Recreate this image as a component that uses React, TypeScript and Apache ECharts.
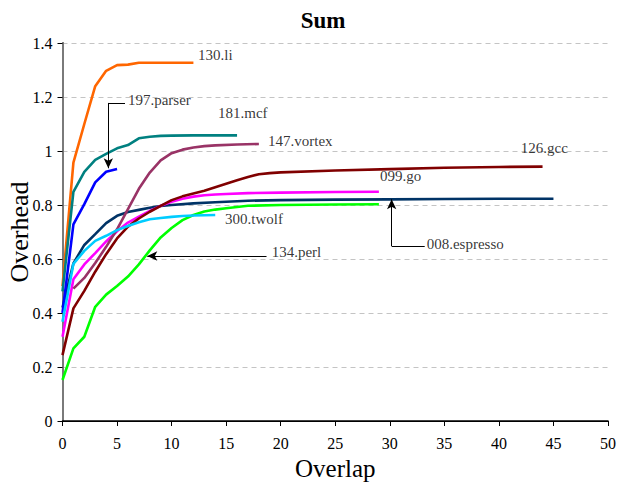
import React, { useEffect, useRef } from "react";
import * as echarts from "echarts";

// ---- data (x = overlap, y = overhead) ----
const li130 = [[0,0.5],[1,0.957],[2,1.1],[3,1.24],[4,1.297],[5,1.318],[6,1.32],[7,1.327],[8,1.327],[10,1.327],[12,1.327]];
const mcf181 = [[0,0.48],[1,0.849],[2,0.923],[3,0.967],[4,0.989],[5,1.01],[6,1.022],[7,1.047],[8,1.053],[9,1.056],[10,1.057],[12,1.058],[14,1.058],[16,1.058]];
const parser197 = [[0,0.4],[1,0.728],[2,0.803],[3,0.884],[4,0.923],[5,0.933]];
const vortex147 = [[1,0.49],[2,0.53],[3,0.585],[4,0.645],[5,0.71],[6,0.785],[7,0.86],[8,0.92],[9,0.965],[10,0.992],[11,1.005],[12,1.013],[13,1.018],[14,1.021],[16,1.024],[18,1.026]];
const gcc126 = [[0,0.244],[1,0.417],[2,0.482],[3,0.553],[4,0.618],[5,0.676],[6,0.72],[7,0.75],[8,0.775],[9,0.797],[10,0.818],[11,0.832],[12,0.843],[13,0.853],[14,0.866],[15,0.879],[16,0.892],[17,0.904],[18,0.914],[19,0.918],[20,0.921],[25,0.928],[30,0.933],[35,0.938],[40,0.941],[44,0.942]];
const go099 = [[0,0.312],[1,0.525],[2,0.58],[3,0.622],[4,0.665],[5,0.703],[6,0.735],[7,0.757],[8,0.778],[9,0.797],[10,0.812],[11,0.823],[12,0.831],[13,0.836],[14,0.839],[15,0.841],[17,0.844],[20,0.846],[25,0.848],[29,0.849]];
const espresso008 = [[0,0.42],[1,0.584],[2,0.652],[3,0.692],[4,0.733],[5,0.76],[6,0.774],[7,0.782],[8,0.79],[9,0.796],[10,0.8],[12,0.806],[14,0.81],[17,0.816],[20,0.818],[25,0.82],[30,0.821],[35,0.822],[40,0.823],[45,0.823]];
const twolf300 = [[0,0.368],[1,0.582],[2,0.63],[3,0.667],[4,0.686],[5,0.707],[6,0.722],[7,0.736],[8,0.747],[9,0.752],[10,0.756],[11,0.759],[12,0.761],[13,0.762],[14,0.763]];
const perl134 = [[0,0.152],[1,0.269],[2,0.312],[3,0.423],[4,0.468],[5,0.5],[6,0.535],[7,0.58],[8,0.632],[9,0.68],[10,0.715],[11,0.744],[12,0.763],[13,0.776],[14,0.783],[15,0.788],[17,0.797],[20,0.8],[25,0.802],[29,0.803]];

const seriesNames = ["008.espresso","099.go","126.gcc","130.li","134.perl","147.vortex","181.mcf","197.parser","300.twolf"];
const seriesData = [espresso008, go099, gcc126, li130, perl134, vortex147, mcf181, parser197, twolf300];
const seriesColors = ["#003366","#FF00FF","#800000","#FF6600","#00FF00","#993366","#008080","#0000FF","#00CCFF"];

// annotation labels
const labelNames = ["130.li","197.parser","181.mcf","147.vortex","126.gcc","099.go","008.espresso","300.twolf","134.perl"];
const labelX = [12.42, 6.0, 14.25, 18.84, 42.0, 29.1, 33.38, 14.9, 19.17];
const labelY = [1.356, 1.189, 1.141, 1.038, 1.01, 0.907, 0.656, 0.747, 0.627];

// annotation leader segments: [x1, y1, x2, y2, arrowAtEnd]
const leaderSegments: [number, number, number, number, boolean][] = [
  [5.73, 1.178, 4.2, 1.178, false],
  [4.2, 1.178, 4.2, 0.936, true],
  [18.7, 0.611, 7.77, 0.611, true],
  [33.2, 0.648, 30.17, 0.648, false],
  [30.17, 0.648, 30.17, 0.821, true],
];

const xTicks = { min: 0, max: 50, interval: 5 };
const yTicks = { min: 0, max: 1.4, interval: 0.2 };

const FONT = "'Liberation Serif', 'Times New Roman', serif";

export default function App() {
  const ref = useRef<HTMLDivElement>(null);
  useEffect(() => {
    document.body.style.margin = "0";
    const chart = echarts.init(ref.current!, undefined, { renderer: "svg" });
    const lineSeries = seriesNames.map((name, i) => ({
      name,
      type: "line",
      data: seriesData[i],
      symbol: "none",
      lineStyle: { color: seriesColors[i], width: 2.6 },
      itemStyle: { color: seriesColors[i] },
      silent: true,
      z: 3,
    }));
    const labelSeries = {
      name: "labels",
      type: "scatter",
      symbolSize: 0,
      silent: true,
      z: 5,
      data: labelNames.map((n, i) => ({ name: n, value: [labelX[i], labelY[i]] })),
      label: {
        show: true,
        position: "right",
        distance: 0,
        formatter: "{b}",
        fontFamily: FONT,
        fontSize: 15,
        color: "#000",
      },
      markLine: {
        silent: true,
        animation: false,
        label: { show: false },
        lineStyle: { color: "#000", width: 1, type: "solid" },
        emphasis: { disabled: true },
        data: leaderSegments.map(([x1, y1, x2, y2, arrow]) => [
          { coord: [x1, y1], symbol: "none" },
          { coord: [x2, y2], symbol: arrow ? "arrow" : "none", symbolSize: [7, 10] },
        ]),
      },
    };
    chart.setOption({
      animation: false,
      backgroundColor: "#fff",
      textStyle: { fontFamily: FONT },
      title: {
        text: "Sum",
        left: 318,
        textAlign: "center",
        top: 4,
        textStyle: { fontFamily: FONT, fontSize: 23, fontWeight: "bold", color: "#000" },
      },
      grid: { left: 62.5, right: 16, top: 43, bottom: 63, containLabel: false, outerBoundsMode: "none" },
      xAxis: [
        {
          type: "value",
          min: xTicks.min,
          max: xTicks.max,
          interval: xTicks.interval,
          name: "Overlap",
          nameLocation: "middle",
          nameGap: 33,
          nameTextStyle: { fontFamily: FONT, fontSize: 25, color: "#000" },
          axisLine: { show: true, lineStyle: { color: "#000", width: 1.5 } },
          axisTick: { show: true, inside: false, length: 5, lineStyle: { color: "#000" } },
          axisLabel: { fontFamily: FONT, fontSize: 16, color: "#000", margin: 14 },
          splitLine: { show: false },
        },
        {
          type: "value",
          position: "top",
          min: xTicks.min,
          max: xTicks.max,
          axisLine: { show: true, lineStyle: { color: "#000", width: 1 } },
          axisTick: { show: false },
          axisLabel: { show: false },
          splitLine: { show: false },
        },
      ],
      yAxis: [
        {
          type: "value",
          min: yTicks.min,
          max: yTicks.max,
          interval: yTicks.interval,
          name: "Overhead",
          nameLocation: "middle",
          nameGap: 30,
          nameMoveOverlap: false,
          nameTextStyle: { fontFamily: FONT, fontSize: 26, color: "#000" },
          axisLine: { show: true, lineStyle: { color: "#000", width: 1.5 } },
          axisTick: { show: true, inside: false, length: 5, lineStyle: { color: "#000" } },
          axisLabel: {
            fontFamily: FONT,
            fontSize: 16,
            color: "#000",
            margin: 10,
            formatter: (v: number) => String(Math.round(v * 10) / 10),
          },
          splitLine: { show: true, lineStyle: { color: "#c4c4c4", type: [5, 4], width: 1 } },
        },
        {
          type: "value",
          position: "right",
          min: yTicks.min,
          max: yTicks.max,
          axisLine: { show: true, lineStyle: { color: "#7a7a7a", width: 2 } },
          axisTick: { show: false },
          axisLabel: { show: false },
          splitLine: { show: false },
        },
      ],
      series: [...lineSeries, labelSeries],
    });
    return () => chart.dispose();
  }, []);
  return <div ref={ref} style={{ width: 624, height: 484 }} />;
}
